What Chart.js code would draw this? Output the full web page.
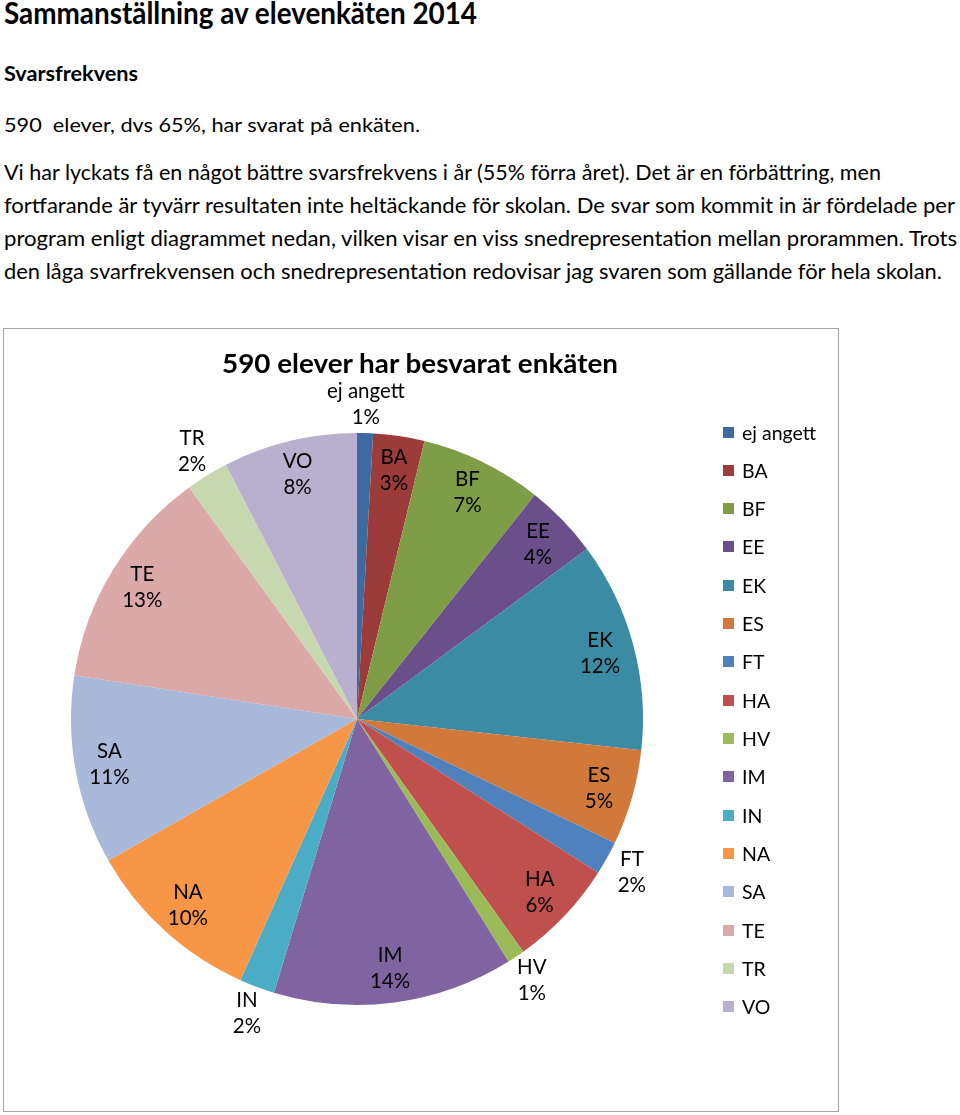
<!DOCTYPE html>
<html>
<head>
<meta charset="utf-8">
<script src="https://cdn.jsdelivr.net/npm/chart.js@4/dist/chart.umd.min.js"></script>
<style>
body { margin: 0; width: 960px; height: 1115px; background: #fff; position: relative; overflow: hidden; font-family: Lato, sans-serif; color: #000 }
.rad { position: absolute; left: 4px; white-space: pre; line-height: 1; transform-origin: 0 0 }
.fet { font-weight: bold }
#ruta { position: absolute; left: 3px; top: 328px; width: 834px; height: 782px; border: 1px solid #a6a6a6 }
#grafica { position: absolute; left: 0; top: 0 }
.post { position: absolute; left: 719px; height: 38px; display: flex; align-items: center; font-size: 19.5px; white-space: nowrap }
.ruta-farg { width: 11px; height: 11px; margin-right: 8px }
</style>
</head>
<body>

<div class="rad fet" style="top:-2.6px; font-size:30px" data-w="473">Sammanställning av elevenkäten 2014</div>
<div class="rad fet" style="top:61.5px; font-size:21px" data-w="134">Svarsfrekvens</div>
<div class="rad" style="top:114.7px; font-size:19.5px" data-w="416">590  elever, dvs 65%, har svarat på enkäten.</div>
<div class="rad" style="top:161.8px; font-size:20.5px" data-w="877">Vi har lyckats få en något bättre svarsfrekvens i år (55% förra året). Det är en förbättring, men</div>
<div class="rad" style="top:194.8px; font-size:20.5px" data-w="951">fortfarande är tyvärr resultaten inte heltäckande för skolan. De svar som kommit in är fördelade per</div>
<div class="rad" style="top:227.8px; font-size:20.5px" data-w="953">program enligt diagrammet nedan, vilken visar en viss snedrepresentation mellan prorammen. Trots</div>
<div class="rad" style="top:260.8px; font-size:20.5px" data-w="938">den låga svarfrekvensen och snedrepresentation redovisar jag svaren som gällande för hela skolan.</div>

<div id="ruta">
    <canvas id="grafica" width="834" height="782"></canvas>
</div>

<script>
//--------Datos
const programs = ["ej angett", "BA", "BF", "EE", "EK", "ES", "FT", "HA", "HV", "IM", "IN", "NA", "SA", "TE", "TR", "VO"]
const andelar = [0.9, 2.9, 6.9, 4.2, 11.9, 5.4, 1.9, 6.1, 1.0, 13.6, 2.0, 10.1, 10.7, 12.6, 2.4, 7.6]
const farger = [
    "#3d6aa1", "#9c3c3a", "#7f9d47", "#6a4f8b", "#3a8ba3", "#d0793a", "#4f81bd", "#c0504d",
    "#9bbb59", "#8064a2", "#4bacc6", "#f79646", "#a8b9da", "#dba9a8", "#c7d8b0", "#b9b0cf"
]
const titulo = "590 elever har besvarat enkäten"


//--------Etiquetas de cada porción (nombre + porcentaje)
const etiquetasPlugin = {
    id: "etiquetas",
    afterDatasetsDraw(chart) {
        const ctx = chart.ctx
        const meta = chart.getDatasetMeta(0)
        const total = andelar.reduce((a, b) => a + b, 0)

        ctx.save()
        ctx.font = "20.5px Lato"
        ctx.fillStyle = "#000"
        ctx.textAlign = "center"
        ctx.textBaseline = "middle"

        meta.data.forEach((arco, i) => {
            const p = arco.getProps(["x", "y", "startAngle", "endAngle", "outerRadius"], true)
            const medio = (p.startAngle + p.endAngle) / 2
            const procent = andelar[i] / total * 100
            const dist = procent < 2.5 ? p.outerRadius * 1.1 : p.outerRadius * 0.88 //las pequeñas van fuera
            const lx = p.x + Math.cos(medio) * dist
            const ly = p.y + Math.sin(medio) * dist

            ctx.fillText(programs[i], lx, ly - 13)
            ctx.fillText(Math.round(procent) + "%", lx, ly + 13)
        })
        ctx.restore()
    }
}


//--------Grafica
const canvaGrafica = document.getElementById("grafica")

const graficaChart = new Chart(canvaGrafica, {
    type: "pie",
    data: {
        labels: programs,
        datasets: [{
            data: andelar,
            backgroundColor: farger,
            borderWidth: 0
        }]
    },
    options: {
        responsive: false,
        animation: false,
        layout: {
            padding: { top: 104, left: 67, right: 195, bottom: 106 }
        },
        plugins: {
            legend: { display: false },
            tooltip: { enabled: false }
        }
    },
    plugins: [etiquetasPlugin]
})


//--------Titulo del diagrama (centrado en la caja, no en el pastel)
const tituloDiagrama = document.createElement("div")
tituloDiagrama.className = "rad fet"
tituloDiagrama.style.left = "222px"
tituloDiagrama.style.top = "350px"
tituloDiagrama.style.fontSize = "26px"
tituloDiagrama.dataset.w = 396
tituloDiagrama.innerHTML = titulo
document.body.appendChild(tituloDiagrama)


//--------Leyenda
const ruta = document.getElementById("ruta")

programs.forEach((program, i) => {
    const post = document.createElement("div")
    const fargRuta = document.createElement("div")
    const texto = document.createElement("span")

    post.className = "post"
    post.style.top = (104 - 19 + i * 38.33 - 1) + "px"

    fargRuta.className = "ruta-farg"
    fargRuta.style.background = graficaChart.data.datasets[0].backgroundColor[i]

    texto.innerHTML = graficaChart.data.labels[i]

    post.appendChild(fargRuta)
    post.appendChild(texto)
    ruta.appendChild(post)
})


//--------Ajustar el ancho de las líneas de texto
document.querySelectorAll(".rad").forEach(rad => {
    const ancho = rad.getBoundingClientRect().width
    rad.style.transform = "scaleX(" + (rad.dataset.w / ancho) + ")"
})
</script>
</body>
</html>
